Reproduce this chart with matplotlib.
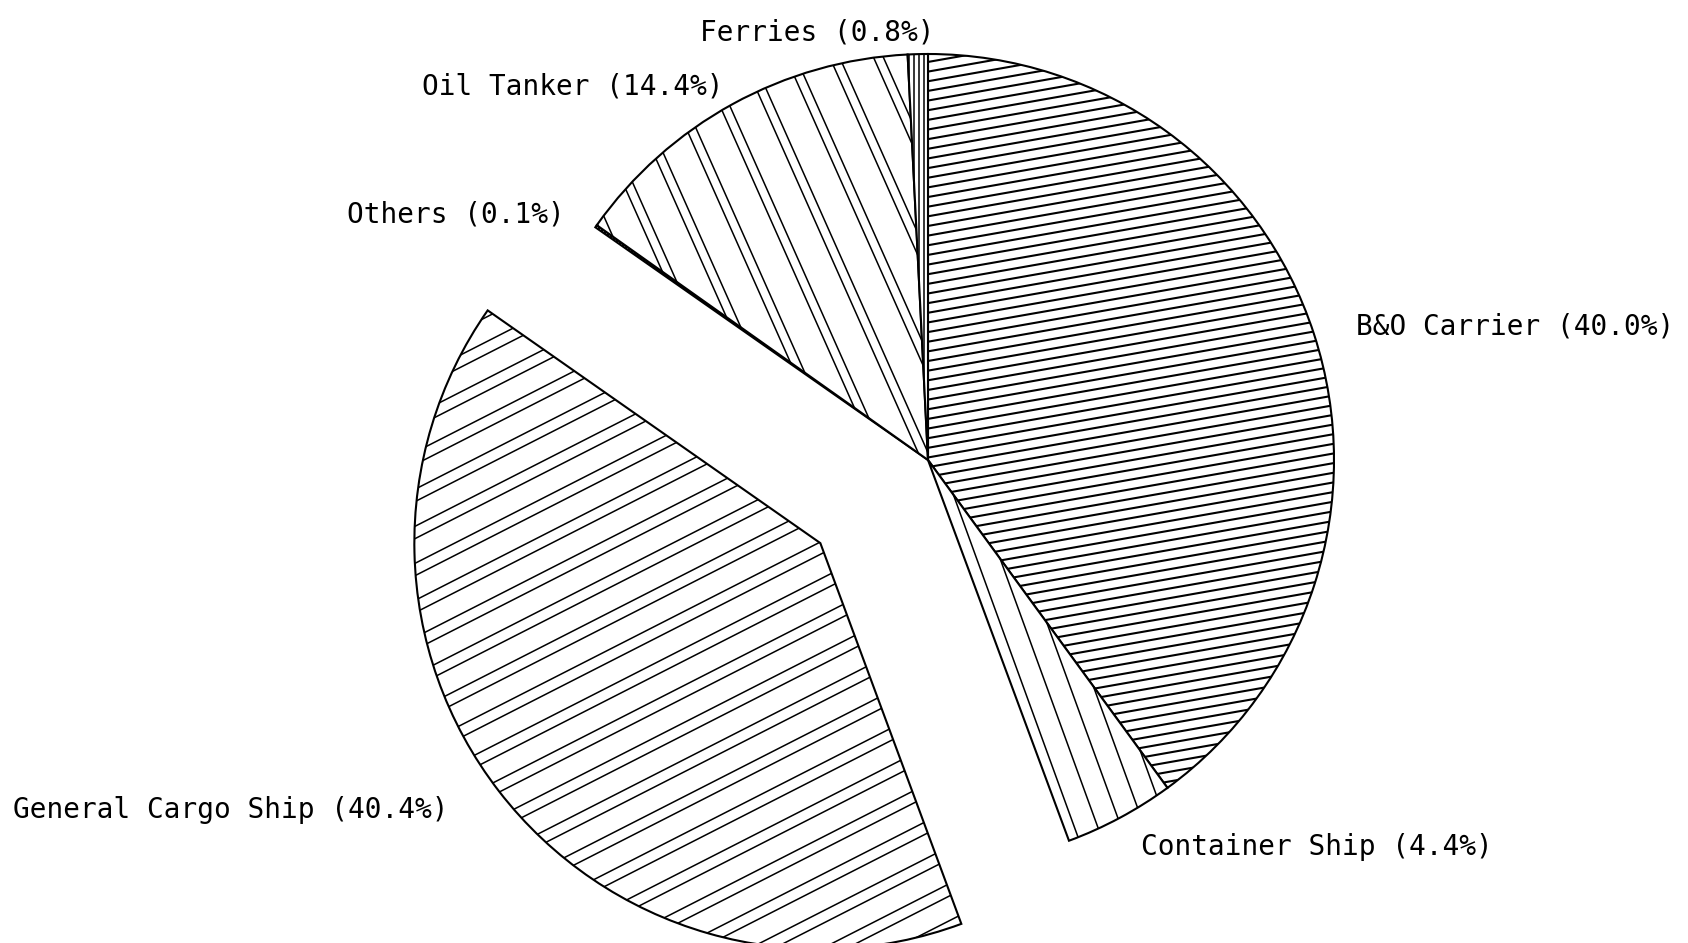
import numpy as np
import matplotlib
matplotlib.use('Agg')
import matplotlib.pyplot as plt

# share of ship types (%)
ship_types = ['B&O Carrier', 'Container Ship', 'General Cargo Ship',
              'Others', 'Oil Tanker', 'Ferries']
shares = [40.0, 4.4, 40.4, 0.1, 14.4, 0.8]

W, H = 1688, 943
fig = plt.figure(figsize=(W / 100, H / 100), dpi=100)
ax = fig.add_axes([0, 0, 1, 1])

center = (928, H - 460)
radius = 406
explode = [0, 0, 136, 0, 0, 0]

wedges, _ = ax.pie(shares, explode=explode, startangle=90, counterclock=False,
                   center=center, radius=radius, normalize=True,
                   wedgeprops=dict(facecolor='white', edgecolor='black', linewidth=1.5))

ax.set_xlim(0, W)
ax.set_ylim(0, H)
ax.set_aspect('equal')
ax.axis('off')


# old plotter style hatching: parallel lines clipped to the wedge
def hatch(wedge, angle, period, gap=0, lw=1.2, phase=0):
    c = np.array(wedge.center)
    r = wedge.r
    a = np.deg2rad(angle)
    d = np.array([np.cos(a), np.sin(a)])
    n = np.array([-np.sin(a), np.cos(a)])
    offs = np.arange(-r + phase, r, period)
    if gap:
        offs = np.concatenate([offs, offs + gap])
    for t in offs:
        p0 = c + t * n - r * d
        p1 = c + t * n + r * d
        ln, = ax.plot([p0[0], p1[0]], [p0[1], p1[1]], color='black', lw=lw)
        ln.set_clip_path(wedge)


hatch(wedges[0], 10, 9.5, lw=1.5)         # B&O Carrier
hatch(wedges[1], -70, 22, lw=1.1)         # Container Ship
hatch(wedges[2], 27, 33, gap=11, lw=1.1)  # General Cargo Ship
hatch(wedges[3], 90, 3, lw=1.5)           # Others
hatch(wedges[4], -66, 40, gap=9, lw=1.1)  # Oil Tanker
hatch(wedges[5], 90, 5, lw=1.1)           # Ferries

# labels
label_pos = [(1356, 326), (1141, 847), (13, 810), (347, 215), (422, 86), (700, 32)]
for name, val, (x, y) in zip(ship_types, shares, label_pos):
    ax.text(x, H - y, f'{name} ({val:.1f}%)', ha='left', va='center',
            fontsize=20, family='DejaVu Sans Mono', color='black')

fig.savefig('out.png', dpi=100, facecolor='white')
